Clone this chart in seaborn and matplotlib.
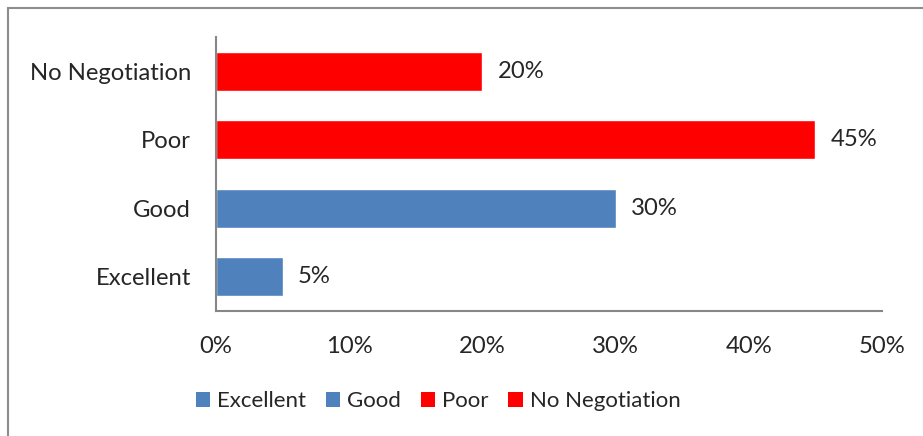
import matplotlib
matplotlib.use("Agg")
import matplotlib.pyplot as plt
import seaborn as sns
import pandas as pd
from matplotlib.patches import Patch, Rectangle

categories = ["No Negotiation", "Poor", "Good", "Excellent"]
values = [20, 45, 30, 5]
bar_colors = ["#FF0000", "#FF0000", "#4F81BD", "#4F81BD"]
legend_order = ["Excellent", "Good", "Poor", "No Negotiation"]
xticks = [0, 10, 20, 30, 40, 50]
xtick_labels = ["0%", "10%", "20%", "30%", "40%", "50%"]

sns.set_style("white")
plt.rcParams["font.family"] = ["Lato", "DejaVu Sans"]
FS = 17.2
LFS = 16

df = pd.DataFrame({"cat": categories, "val": values})
palette = dict(zip(categories, bar_colors))

fig = plt.figure(figsize=(9.23, 4.36), dpi=100)
ax = fig.add_axes([216/923, 1-311/436, (882-216)/923, (311-37)/436])

sns.barplot(data=df, x="val", y="cat", hue="cat", palette=palette, order=categories,
            hue_order=categories, width=0.57, dodge=False, legend=False, ax=ax,
            saturation=1)

ax.set_xlim(0, 50)
ax.set_ylim(3.5, -0.5)
ax.set_xticks(xticks)
ax.set_xticklabels(xtick_labels, fontsize=FS)
ax.tick_params(axis="x", length=0, pad=18)
ax.tick_params(axis="y", length=0, pad=18, labelsize=FS)
ax.set_xlabel("")
ax.set_ylabel("")
for s in ["top", "right"]:
    ax.spines[s].set_visible(False)
for s in ["left", "bottom"]:
    ax.spines[s].set_color("#868686")
    ax.spines[s].set_linewidth(1.5)

for c in ax.containers:
    ax.bar_label(c, labels=[f"{v:g}%" for v in c.datavalues], padding=11, fontsize=FS)

handles = [Patch(facecolor=palette[c], edgecolor="none") for c in legend_order]
fig.legend(handles, legend_order, loc="center", bbox_to_anchor=(438/923, 1-401/436),
           ncol=4, frameon=False, fontsize=LFS, handlelength=0.65, handleheight=0.65,
           handletextpad=0.3, columnspacing=0.9)

fig.patches.append(Rectangle((8/923, -0.2), 1.2, 1.2 - 7.5/436, transform=fig.transFigure,
                             fill=False, edgecolor="#8c8c8c", linewidth=1.5, figure=fig))

fig.savefig("out.png", dpi=100)
